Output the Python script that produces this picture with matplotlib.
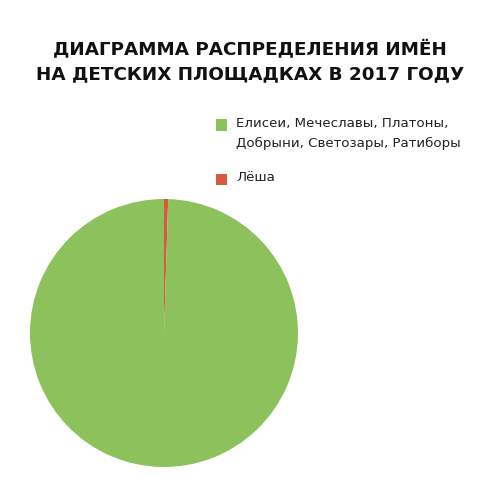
import matplotlib
matplotlib.use("Agg")
import matplotlib.pyplot as plt
from matplotlib.patches import Rectangle

labels = ["Елисеи, Мечеславы, Платоны,\nДобрыни, Светозары, Ратиборы", "Лёша"]
values = [99.5, 0.5]
colors = ["#8DC15B", "#D95940"]
title = "ДИАГРАММА РАСПРЕДЕЛЕНИЯ ИМЁН\nНА ДЕТСКИХ ПЛОЩАДКАХ В 2017 ГОДУ"

fig = plt.figure(figsize=(5, 5), dpi=100)
fig.patch.set_facecolor("white")

fig.text(0.5, 1 - 40/500, title, ha="center", va="top", fontsize=13.2,
         fontweight="bold", family="DejaVu Sans", color="#111111", linespacing=1.45)

ax = fig.add_axes([30/500, 33/500, 268/500, 268/500])
wedges, _ = ax.pie(values[::-1], colors=colors[::-1], startangle=90,
                   counterclock=False, radius=1.0)
ax.set_xlim(-1, 1)
ax.set_ylim(-1, 1)
ax.set_aspect("equal")
ax.axis("off")

# manual legend
leg_y = [125, 179]  # first-line centers (px from top)
for lab, col, yc in zip(labels, colors, leg_y):
    fig.patches.append(Rectangle((216/500, 1 - (yc + 5.5)/500), 11/500, 11/500,
                                 transform=fig.transFigure, facecolor=col,
                                 edgecolor="none"))
    fig.text(236/500, 1 - (yc - 8)/500, lab, ha="left", va="top", fontsize=9.6,
             family="DejaVu Sans", color="#222222", linespacing=1.7)

fig.savefig("out.png", dpi=100, facecolor="white")
